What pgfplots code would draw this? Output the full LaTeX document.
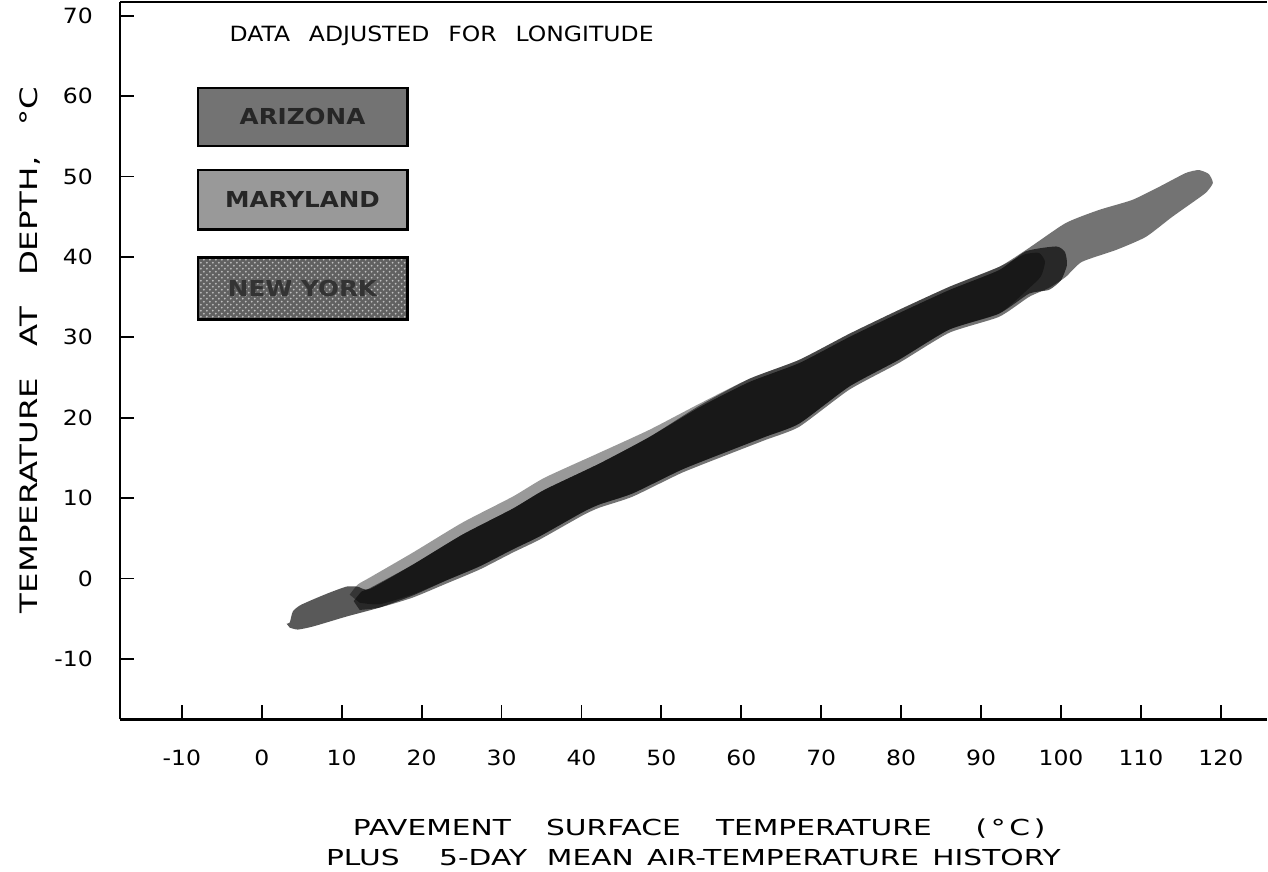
\documentclass[border=0pt]{standalone}
\usepackage{pgfplots}
\pgfplotsset{compat=1.18}
\usetikzlibrary{patterns}
\usepackage{fontspec}
\setmainfont{DejaVu Sans}
\newfontfamily\lab[FakeStretch=1.12]{DejaVu Sans}
\newfontfamily\wide[FakeStretch=1.35]{DejaVu Sans}
\newcommand{\gap}{\hspace{0.9em}}
\begin{document}
\begin{tikzpicture}
\begin{axis}[name=ax, scale only axis, width=574pt, height=359pt,
 xmin=-17.75, xmax=125.75, ymin=-17.5, ymax=71.7,
 axis lines=left, axis line style={-, line width=1.3pt},
 xtick={-10,0,...,120}, ytick={-10,0,...,70},
 tick align=inside, major tick length=7pt, tick style={line width=0.9pt, black},
 /pgf/number format/assume math mode=true,
 ticklabel style={font=\fontsize{10.5}{12}\selectfont\lab},
 xticklabel style={yshift=-12pt},
 yticklabel style={xshift=-10pt},
 clip=false]
% Arizona
\addplot[draw=none, fill=black, fill opacity=0.55, smooth, tension=0.35] coordinates {
(11.5,-2.8) (12.5,-1.6) (13.5,-1.2) (18.9,1.73) (25.1,5.46) (31.4,8.69) (35.4,11.05) (42.25,14.3) (48.5,17.6) (54.75,21.5) (61,24.84) (67.25,27.2) (73.5,30.43) (79.75,33.42) (86,36.27) (92.25,38.76) (96,41.12) (100.6,44.22) (104.75,45.84) (108.9,47.08) (112.25,48.7) (115.6,50.43) (117.25,50.8) (118.5,50.3) (119,49.2) (118.25,48.1)
(117.25,47.33) (113.9,44.97) (110.6,42.48) (106.9,40.87) (102.6,39.38) (100.6,37.52) (98.5,36.15) (96,35.03) (92.25,32.55) (86,30.56) (79.75,26.83) (73.5,23.48) (67.25,18.88) (63.1,17.27) (58.9,15.65) (52.6,13.17) (46.4,10.19) (42.25,8.82) (40.1,7.83) (34.75,4.84) (31.4,3.23) (27.25,1.12) (23.1,-0.62) (18.9,-2.36) (14.75,-3.6) (12.25,-3.9)
} -- cycle;
% Maryland
\addplot[draw=none, fill=black, fill opacity=0.4, smooth, tension=0.35] coordinates {
(11.0,-2.0) (12.0,-0.75) (13.5,0.12) (18.9,3.23) (25.1,6.96) (31.4,10.19) (35.4,12.55) (42.25,15.65) (48.5,18.5) (54.75,21.74) (61,24.84) (67.25,27.2) (73.5,30.43) (79.75,33.42) (86,36.27) (92.25,38.76) (95.4,40.3) (97.25,40.5) (98,39.4) (97.5,37.6) (96,36.1)
(92.25,32.95) (86,30.96) (79.75,27.23) (73.5,23.88) (67.25,19.28) (63.1,17.67) (58.9,16.05) (52.6,13.57) (46.4,10.59) (42.25,9.22) (40.1,8.23) (34.75,5.24) (31.4,3.63) (27.25,1.52) (23.1,-0.22) (18.9,-1.96) (14.75,-3.2) (12.25,-3.0)
} -- cycle;
% New York
\addplot[draw=none, fill=black, fill opacity=0.65, smooth, tension=0.35] coordinates {
(3.1,-5.6) (3.5,-5.47) (3.88,-4.1) (4.75,-3.35) (6.38,-2.61) (8.5,-1.74) (10.63,-0.99) (12,-1.0) (13.5,-1.3) (18.9,1.73) (25.1,5.46) (31.4,8.69) (35.4,11.05) (42.25,14.3) (48.5,17.6) (54.75,21.3) (61,24.44) (67.25,26.8) (73.5,30.03) (79.75,33.02) (86,35.87) (92.25,38.36) (95.6,40.7) (99.4,41.3) (100.5,40.6) (100.75,39) (100,37.1) (98.5,35.9)
(96,35.43) (92.25,32.95) (86,30.96) (79.75,27.23) (73.5,23.88) (67.25,19.28) (63.1,17.67) (58.9,16.05) (52.6,13.57) (46.4,10.59) (42.25,9.22) (40.1,8.23) (34.75,5.24) (31.4,3.63) (27.25,1.52) (23.1,-0.22) (18.9,-2.1) (14.75,-3.6) (10.6,-4.72) (6.4,-5.96) (4.5,-6.34) (3.5,-6.1)
} -- cycle;
% legend boxes
\draw[line width=1.3pt, fill=black!55] (axis cs:-8,61) rectangle (axis cs:18.25,53.8);
\node[font=\fontsize{11}{13}\selectfont\lab\bfseries, text=black!85] at (axis cs:5.1,57.4) {ARIZONA};
\draw[line width=1.3pt, fill=black!40] (axis cs:-8,50.8) rectangle (axis cs:18.25,43.4);
\node[font=\fontsize{11}{13}\selectfont\lab\bfseries, text=black!85] at (axis cs:5.1,47.1) {MARYLAND};
\fill[black!62] (axis cs:-8,39.9) rectangle (axis cs:18.25,32.2);
\fill[pattern=crosshatch dots, pattern color=white!75!black] (axis cs:-8,39.9) rectangle (axis cs:18.25,32.2);
\draw[line width=1.3pt] (axis cs:-8,39.9) rectangle (axis cs:18.25,32.2);
\node[font=\fontsize{11}{13}\selectfont\lab\bfseries, text=black!80] at (axis cs:5.1,36.05) {NEW YORK};
% annotation
\node[font=\fontsize{10.5}{12}\selectfont\lab] at (axis cs:22.5,67.5) {DATA\gap ADJUSTED\gap FOR\gap LONGITUDE};
% top spine
\draw[line width=1.3pt] (rel axis cs:0,1) -- (rel axis cs:1,1);
% labels
\node[rotate=90, font=\fontsize{12}{14}\selectfont\wide] at (rel axis cs:-0.0784,0.515) {TEMPERATURE\hspace{1.3em}AT\hspace{1.3em}DEPTH,\hspace{1.3em}°C};
\node[font=\fontsize{11}{13}\selectfont\wide] at (rel axis cs:0.505,-0.153) {PAVEMENT\hspace{1.6em}SURFACE\hspace{1.6em}TEMPERATURE\hspace{2em}(\,°\,C\,)};
\node[font=\fontsize{11}{13}\selectfont\wide] at (rel axis cs:0.5,-0.192) {PLUS\hspace{1.8em}5-DAY\hspace{0.9em}MEAN\hspace{0.6em}AIR-TEMPERATURE\hspace{0.6em}HISTORY};
\end{axis}
\pgfresetboundingbox
\path[use as bounding box] ([shift={(-60pt,-76pt)}]ax.south west) rectangle ([shift={(0.6pt,1pt)}]ax.north east);
\end{tikzpicture}
\end{document}
